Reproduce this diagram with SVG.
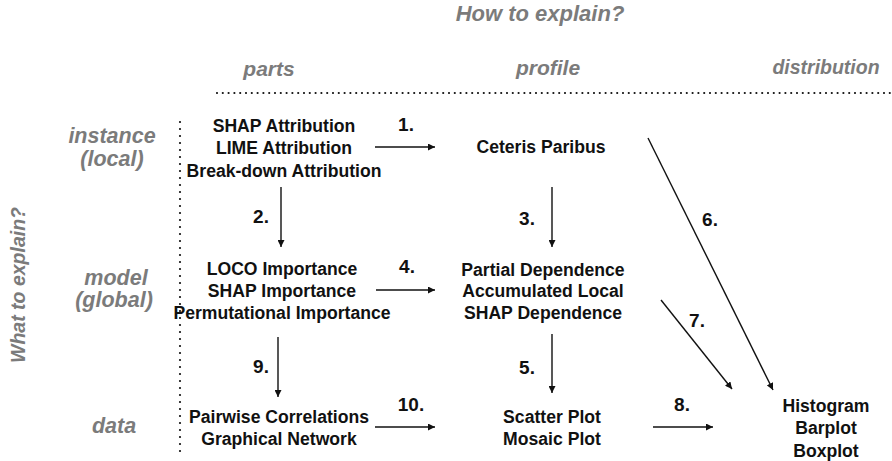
<svg xmlns="http://www.w3.org/2000/svg" width="892" height="461" viewBox="0 0 892 461">
<defs>
<marker id="ah" viewBox="0 0 10 10" refX="10" refY="5" markerWidth="7" markerHeight="7" markerUnits="userSpaceOnUse" orient="auto">
<path d="M0,0 L10,5 L0,10 z" fill="#111"/>
</marker>
<style>
.g{font-family:"Liberation Sans",Arial,sans-serif;font-weight:bold;font-style:italic;fill:#7b7b7b;text-anchor:middle}
.t{font-family:"Liberation Sans",Arial,sans-serif;font-weight:bold;font-size:17.6px;fill:#111;text-anchor:middle}
.n{font-family:"Liberation Sans",Arial,sans-serif;font-weight:bold;font-size:19px;fill:#111;text-anchor:middle}
.c{stroke:#111;stroke-width:1.4;fill:none;marker-end:url(#ah)}
.dot{stroke:#111;stroke-width:2.2;stroke-linecap:round;fill:none}
</style>
</defs>
<rect width="892" height="461" fill="#fff"/>
<g id="axes">
<text class="g" x="540" y="21" font-size="22">How to explain?</text>
<text class="g" x="269" y="76" font-size="21">parts</text>
<text class="g" x="548" y="75" font-size="21">profile</text>
<text class="g" x="826" y="74" font-size="19.5">distribution</text>
<text class="g" font-size="19.5" transform="translate(25,285) rotate(-90)">What to explain?</text>
<text class="g" x="112" y="143" font-size="21.5">instance</text>
<text class="g" x="112" y="166" font-size="21.5">(local)</text>
<text class="g" x="116" y="285" font-size="21.5">model</text>
<text class="g" x="114" y="307" font-size="21.5">(global)</text>
<text class="g" x="114" y="433" font-size="21.5">data</text>
<path class="dot" d="M217,93 H892" stroke-dasharray="0 5.8"/>
<path class="dot" d="M180,122 V453" stroke-dasharray="0 7"/>
</g>
<g id="instance-parts">
<text class="t" x="284" y="132">SHAP Attribution</text>
<text class="t" x="284" y="154">LIME Attribution</text>
<text class="t" x="284" y="177">Break-down Attribution</text>
</g>
<g id="instance-profile">
<text class="t" x="541" y="153">Ceteris Paribus</text>
</g>
<g id="model-parts">
<text class="t" x="282" y="275">LOCO Importance</text>
<text class="t" x="282" y="297">SHAP Importance</text>
<text class="t" x="282" y="319">Permutational Importance</text>
</g>
<g id="model-profile">
<text class="t" x="543" y="276">Partial Dependence</text>
<text class="t" x="543" y="297">Accumulated Local</text>
<text class="t" x="543" y="319">SHAP Dependence</text>
</g>
<g id="data-parts">
<text class="t" x="279" y="423">Pairwise Correlations</text>
<text class="t" x="279" y="445">Graphical Network</text>
</g>
<g id="data-profile">
<text class="t" x="552" y="423">Scatter Plot</text>
<text class="t" x="552" y="445">Mosaic Plot</text>
</g>
<g id="distribution">
<text class="t" x="826" y="412">Histogram</text>
<text class="t" x="826" y="434">Barplot</text>
<text class="t" x="826" y="457">Boxplot</text>
</g>
<g id="connectors">
<line class="c" x1="375" y1="147" x2="435" y2="147"/>
<text class="n" x="406" y="131">1.</text>
<line class="c" x1="281" y1="187" x2="281" y2="247"/>
<text class="n" x="261" y="223">2.</text>
<line class="c" x1="552" y1="187" x2="552" y2="247"/>
<text class="n" x="527" y="225">3.</text>
<line class="c" x1="376" y1="290" x2="435" y2="290"/>
<text class="n" x="407" y="273">4.</text>
<line class="c" x1="552" y1="334" x2="552" y2="393"/>
<text class="n" x="527" y="374">5.</text>
<line class="c" x1="648" y1="138" x2="773" y2="390"/>
<text class="n" x="710" y="226">6.</text>
<line class="c" x1="661" y1="300" x2="732" y2="389"/>
<text class="n" x="697" y="327">7.</text>
<line class="c" x1="653" y1="427" x2="713" y2="427"/>
<text class="n" x="682" y="411">8.</text>
<line class="c" x1="278" y1="337" x2="278" y2="397"/>
<text class="n" x="261" y="373">9.</text>
<line class="c" x1="375" y1="427" x2="435" y2="427"/>
<text class="n" x="411" y="411">10.</text>
</g>
</svg>
